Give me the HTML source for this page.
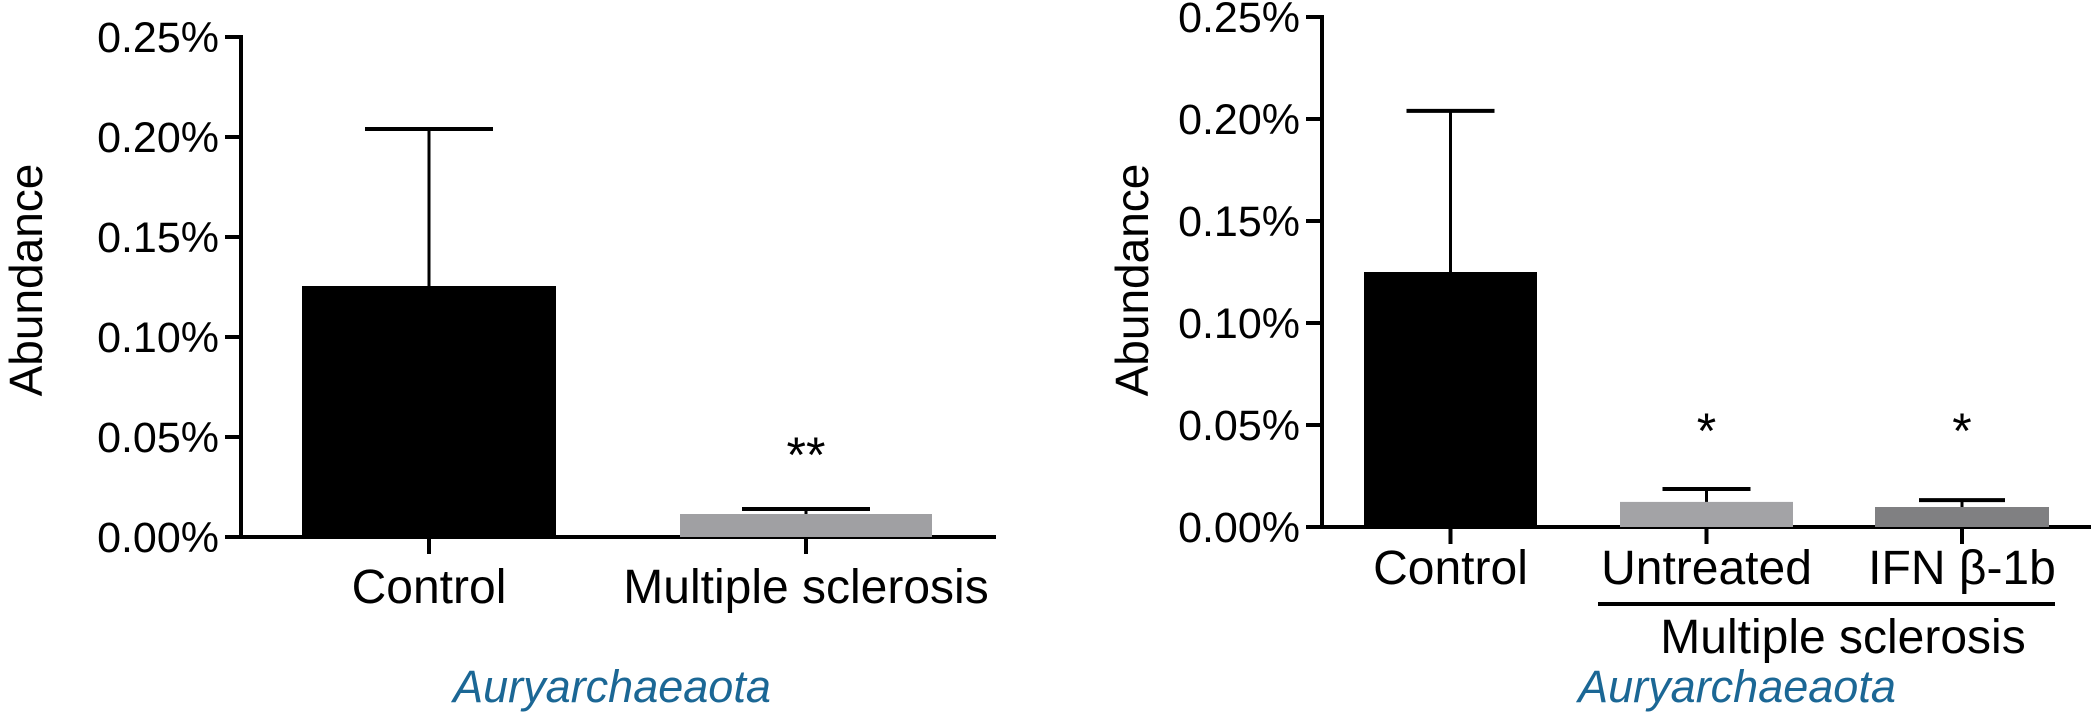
<!DOCTYPE html>
<html><head><meta charset="utf-8"><style>
html,body{margin:0;padding:0;background:#fff;}
svg{display:block;font-family:"Liberation Sans",Arial,sans-serif;}
</style></head><body>
<svg id="fig" width="2091" height="714" viewBox="0 0 2091 714"></svg>
<script>
const ticks = [0, 0.05, 0.10, 0.15, 0.20, 0.25];
const tickLabels = ["0.00%","0.05%","0.10%","0.15%","0.20%","0.25%"];
const leftCats = ["Control","Multiple sclerosis"];
const leftVals = [0.1255, 0.0115];
const leftErr = [0.204, 0.014];
const leftStars = ["", "**"];
const rightCats = ["Control","Untreated","IFN β-1b"];
const rightVals = [0.125, 0.0123, 0.0098];
const rightErr = [0.204, 0.0186, 0.0132];
const rightStars = ["", "*", "*"];

const NS = "http://www.w3.org/2000/svg";
const svg = document.getElementById("fig");
function mk(tag, attrs, parent, text){
  const e = document.createElementNS(NS, tag);
  for (const k in attrs) e.setAttribute(k, attrs[k]);
  if (text !== undefined) e.textContent = text;
  (parent||svg).appendChild(e);
  return e;
}

function panel(cfg){
  const g = mk("g", {});
  
  
  const y = v => cfg.y0 - v / 0.05 * cfg.step;
  const ya = mk("line",{x1:cfg.ax,y1:y(0.25)-2,x2:cfg.ax,y2:cfg.y0+2,stroke:"#000","stroke-width":4},g);
  
  
  ticks.forEach((t,i)=>{
    const tl = mk("line",{x1:cfg.ax-16,y1:y(t),x2:cfg.ax,y2:y(t),stroke:"#000","stroke-width":4},g);
    
    
    const tx = mk("text",{x:cfg.ax-22,y:y(t)+15,"text-anchor":"end","font-size":43},g,tickLabels[i]);
    
    
  });
  const xa = mk("line",{x1:cfg.ax-2,y1:cfg.y0,x2:cfg.xend,y2:cfg.y0,stroke:"#000","stroke-width":4},g);
  
  
  const yt = mk("text",{x:0,y:0,"text-anchor":"middle","font-size":46,transform:`translate(${cfg.titleX},280) rotate(-90)`},g,"Abundance");
  
  
  cfg.vals.forEach((v,i)=>{
    const x0 = cfg.bars[i][0], x1 = cfg.bars[i][1], cx=(x0+x1)/2;
    const b = mk("rect",{x:x0,y:y(v),width:x1-x0,height:cfg.y0-y(v),fill:cfg.colors[i]},g);
    
    
    const el = mk("line",{x1:cx,y1:y(cfg.err[i]),x2:cx,y2:y(v),stroke:"#000","stroke-width":3},g);
    
    
    const cw = cfg.capW[i];
    const cap = mk("line",{x1:cx-cw/2,y1:y(cfg.err[i]),x2:cx+cw/2,y2:y(cfg.err[i]),stroke:"#000","stroke-width":4},g);
    
    
    const xt = mk("line",{x1:cx,y1:cfg.y0,x2:cx,y2:cfg.y0+17,stroke:"#000","stroke-width":4},g);
    
    
    const lb = mk("text",{x:cx,y:cfg.labelY,"text-anchor":"middle","font-size":48},g,cfg.cats[i]);
    
    
    if (cfg.stars[i]) {
      const st = mk("text",{x:cx,y:cfg.starY,"text-anchor":"middle","font-size":50},g,cfg.stars[i]);
      
      
    }
  });
  const cap = mk("text",{x:cfg.capX,y:702,"text-anchor":"middle","font-size":45,"font-style":"italic",fill:"#1b6795"},g,"Auryarchaeaota");
  
  
  return g;
}

panel({name:"left-chart",ax:241,y0:537,step:100,xend:996,titleX:42,
  cats:leftCats,vals:leftVals,err:leftErr,stars:leftStars,
  bars:[[302,556],[680,932]],colors:["#000","#a0a0a3"],capW:[128,128],
  labelY:603,starY:472,capX:612});
const r = panel({name:"right-chart",ax:1322,y0:527,step:102,xend:2091,titleX:1148,
  cats:rightCats,vals:rightVals,err:rightErr,stars:rightStars,
  bars:[[1364,1537],[1620,1793],[1875,2049]],colors:["#000","#a3a3a6","#808082"],capW:[88,88,86],
  labelY:584,starY:448,capX:1737});
const gl = mk("line",{x1:1598,y1:604,x2:2055,y2:604,stroke:"#000","stroke-width":4},r);


const gt = mk("text",{x:1843,y:653,"text-anchor":"middle","font-size":48},r,"Multiple sclerosis");


</script>
</body></html>
